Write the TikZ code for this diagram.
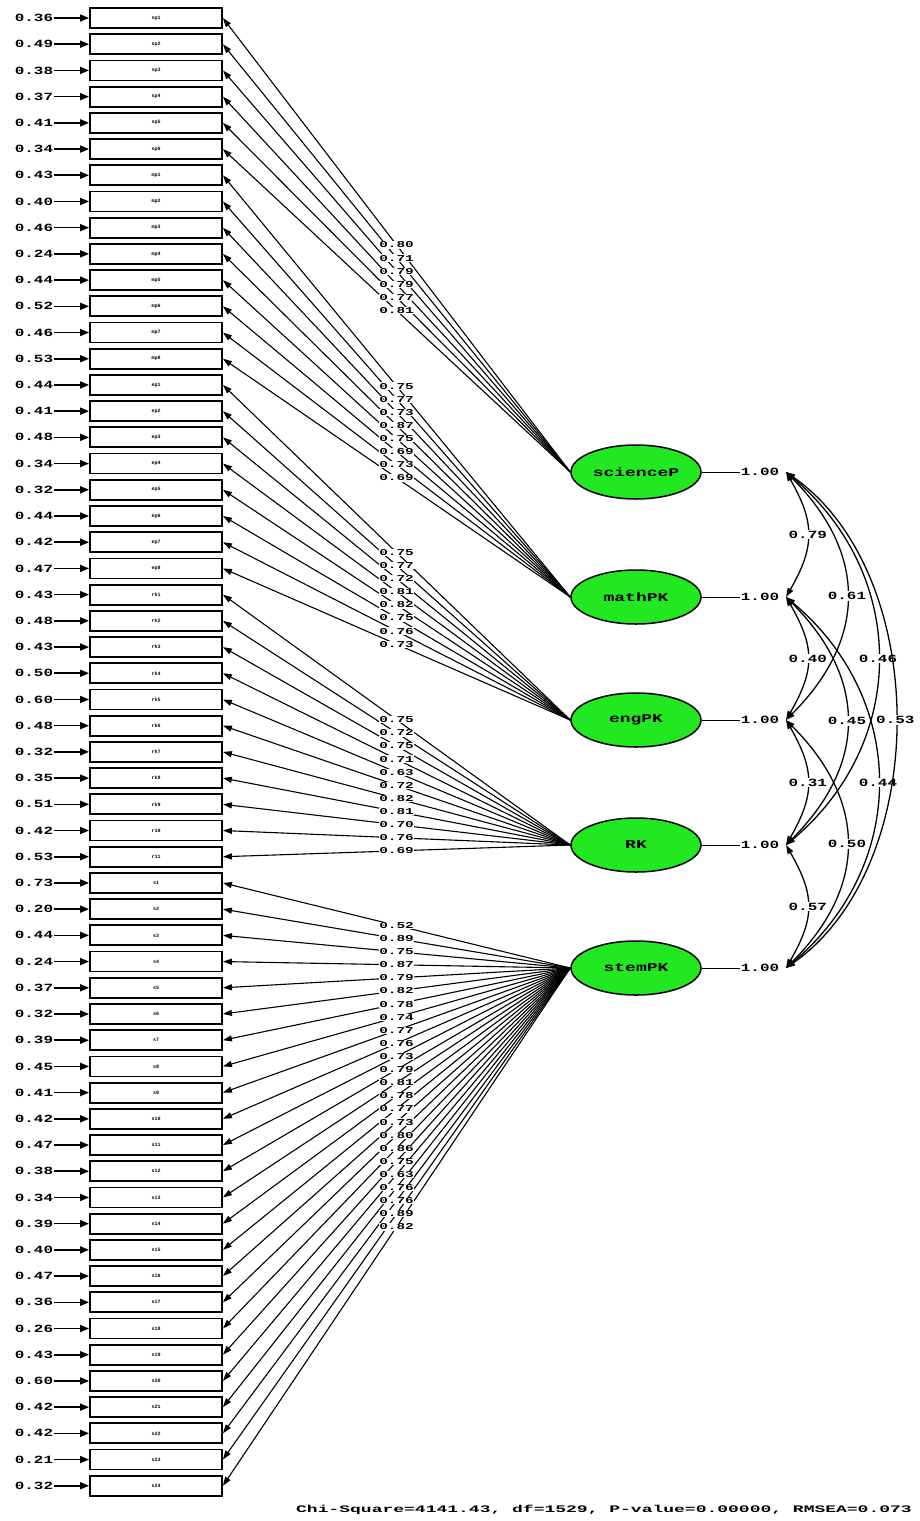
\documentclass[tikz,border=0pt]{standalone}
\usepackage{fontspec}
\setmonofont{Liberation Mono}
\usetikzlibrary{arrows.meta,shapes.geometric}
\definecolor{fgreen}{RGB}{34,232,34}
\newcommand{\bigw}[1]{\scalebox{1.45}[1]{\fontsize{11}{11}\selectfont\ttfamily\bfseries #1}}
\newcommand{\smallw}[1]{\scalebox{1.6}[1]{\fontsize{9}{9}\selectfont\ttfamily\bfseries #1}}
\newcommand{\latw}[1]{\scalebox{1.5}[1]{\fontsize{12}{12}\selectfont\ttfamily\bfseries #1}}
\newcommand{\itemw}[1]{{\fontsize{5}{5}\selectfont\ttfamily\bfseries #1}}
\begin{document}
\begin{tikzpicture}[x=1pt,y=-1pt,
  obs/.style={draw, line width=1.8pt, minimum width=132pt, minimum height=20pt, inner sep=0pt, fill=white},
  lat/.style={ellipse, draw, line width=1.5pt, fill=fgreen, minimum width=130pt, minimum height=54pt, inner sep=0pt},
  txt/.style={inner sep=0.6pt},
  loadlab/.style={inner sep=0.6pt, fill=white},
  errarrow/.style={-{Triangle[length=9pt,width=7pt]}, line width=1.6pt},
  loadarrow/.style={-{Triangle[length=9pt,width=6pt]}, line width=1.1pt},
  corr/.style={{Triangle[length=9pt,width=6pt]}-{Triangle[length=9pt,width=6pt]}, line width=1.3pt},
  corrlab/.style={inner sep=0.8pt, fill=white}
]
\useasboundingbox (0,0) rectangle (919,1521);
\fill[white] (0,0) rectangle (919,1521);

% latent variables
\node[lat] (sci)  at (636,472) {\latw{scienceP}};
\node[lat] (math) at (636,597) {\latw{mathPK}};
\node[lat] (eng)  at (636,720) {\latw{engPK}};
\node[lat] (rk)   at (636,845) {\latw{RK}};
\node[lat] (stem) at (636,968) {\latw{stemPK}};

% observed variables with error variances
\foreach \i/\e/\n in {1/0.36/sp1,2/0.49/sp2,3/0.38/sp3,4/0.37/sp4,5/0.41/sp5,6/0.34/sp6,
  7/0.43/mp1,8/0.40/mp2,9/0.46/mp3,10/0.24/mp4,11/0.44/mp5,12/0.52/mp6,13/0.46/mp7,14/0.53/mp8,
  15/0.44/ep1,16/0.41/ep2,17/0.48/ep3,18/0.34/ep4,19/0.32/ep5,20/0.44/ep6,21/0.42/ep7,22/0.47/ep8,
  23/0.43/rk1,24/0.48/rk2,25/0.43/rk3,26/0.50/rk4,27/0.60/rk5,28/0.48/rk6,29/0.32/rk7,30/0.35/rk8,31/0.51/rk9,32/0.42/r10,33/0.53/r11,
  34/0.73/s1,35/0.20/s2,36/0.44/s3,37/0.24/s4,38/0.37/s5,39/0.32/s6,40/0.39/s7,41/0.45/s8,42/0.41/s9,43/0.42/s10,44/0.47/s11,45/0.38/s12,
  46/0.34/s13,47/0.39/s14,48/0.40/s15,49/0.47/s16,50/0.36/s17,51/0.26/s18,52/0.43/s19,53/0.60/s20,54/0.42/s21,55/0.42/s22,56/0.21/s23,57/0.32/s24} {
  \pgfmathsetmacro\yy{18+(\i-1)*26.21}
  \node[obs] (x\i) at (156,\yy) {\itemw{\n}};
  \node[txt] (e\i) at (34,\yy) {\bigw{\e}};
  \draw[errarrow] (e\i.east) -- (x\i.west);
}

% loadings: lines
\foreach \i/\l/\f in {1/0.80/sci,2/0.71/sci,3/0.79/sci,4/0.79/sci,5/0.77/sci,6/0.81/sci,
  7/0.75/math,8/0.77/math,9/0.73/math,10/0.87/math,11/0.75/math,12/0.69/math,13/0.73/math,14/0.69/math,
  15/0.75/eng,16/0.77/eng,17/0.72/eng,18/0.81/eng,19/0.82/eng,20/0.75/eng,21/0.76/eng,22/0.73/eng,
  23/0.75/rk,24/0.72/rk,25/0.75/rk,26/0.71/rk,27/0.63/rk,28/0.72/rk,29/0.82/rk,30/0.81/rk,31/0.70/rk,32/0.76/rk,33/0.69/rk,
  34/0.52/stem,35/0.89/stem,36/0.75/stem,37/0.87/stem,38/0.79/stem,39/0.82/stem,40/0.78/stem,41/0.74/stem,42/0.77/stem,43/0.76/stem,
  44/0.73/stem,45/0.79/stem,46/0.81/stem,47/0.78/stem,48/0.77/stem,49/0.73/stem,50/0.80/stem,51/0.86/stem,52/0.75/stem,53/0.63/stem,
  54/0.76/stem,55/0.76/stem,56/0.89/stem,57/0.82/stem} {
  \draw[loadarrow] (\f.west) -- (x\i.east);
}
% loadings: labels
\foreach \i/\l/\f in {1/0.80/sci,2/0.71/sci,3/0.79/sci,4/0.79/sci,5/0.77/sci,6/0.81/sci,
  7/0.75/math,8/0.77/math,9/0.73/math,10/0.87/math,11/0.75/math,12/0.69/math,13/0.73/math,14/0.69/math,
  15/0.75/eng,16/0.77/eng,17/0.72/eng,18/0.81/eng,19/0.82/eng,20/0.75/eng,21/0.76/eng,22/0.73/eng,
  23/0.75/rk,24/0.72/rk,25/0.75/rk,26/0.71/rk,27/0.63/rk,28/0.72/rk,29/0.82/rk,30/0.81/rk,31/0.70/rk,32/0.76/rk,33/0.69/rk,
  34/0.52/stem,35/0.89/stem,36/0.75/stem,37/0.87/stem,38/0.79/stem,39/0.82/stem,40/0.78/stem,41/0.74/stem,42/0.77/stem,43/0.76/stem,
  44/0.73/stem,45/0.79/stem,46/0.81/stem,47/0.78/stem,48/0.77/stem,49/0.73/stem,50/0.80/stem,51/0.86/stem,52/0.75/stem,53/0.63/stem,
  54/0.76/stem,55/0.76/stem,56/0.89/stem,57/0.82/stem} {
  \path (\f.west) -- node[loadlab, pos=0.5] {\smallw{\l}} (x\i.east);
}

% variances of latent variables
\foreach \f/\k/\yy in {sci/1/472,math/2/597,eng/3/720,rk/4/845,stem/5/968} {
  \node[txt] (v\k) at (760,\yy) {\bigw{1.00}};
  \coordinate (r\k) at (786,\yy);
  \draw[line width=0.8pt] (\f.east) -- (v\k.west);
}

% correlations
\draw[corr] (r1) .. controls +(60:58) and +(-60:58) .. node[corrlab,pos=0.5] {\bigw{0.79}} (r2);
\draw[corr] (r2) .. controls +(60:58) and +(-60:58) .. node[corrlab,pos=0.5] {\bigw{0.40}} (r3);
\draw[corr] (r3) .. controls +(60:58) and +(-60:58) .. node[corrlab,pos=0.5] {\bigw{0.31}} (r4);
\draw[corr] (r4) .. controls +(60:58) and +(-60:58) .. node[corrlab,pos=0.5] {\bigw{0.57}} (r5);
\draw[corr] (r1) .. controls +(45:115) and +(-45:115) .. node[corrlab,pos=0.5] {\bigw{0.61}} (r3);
\draw[corr] (r2) .. controls +(45:115) and +(-45:115) .. node[corrlab,pos=0.5] {\bigw{0.45}} (r4);
\draw[corr] (r3) .. controls +(45:115) and +(-45:115) .. node[corrlab,pos=0.5] {\bigw{0.50}} (r5);
\draw[corr] (r1) .. controls +(40:160) and +(-40:160) .. node[corrlab,pos=0.5] {\bigw{0.46}} (r4);
\draw[corr] (r2) .. controls +(40:160) and +(-40:160) .. node[corrlab,pos=0.5] {\bigw{0.44}} (r5);
\draw[corr] (r1) .. controls +(35:178) and +(-35:178) .. node[corrlab,pos=0.5] {\bigw{0.53}} (r5);

% fit statistics
\node[txt] (fit) at (604,1510) {\scalebox{1.8}[1]{\fontsize{10}{10}\selectfont\ttfamily\bfseries Chi-Square=4141.43, df=1529, P-value=0.00000, RMSEA=0.073}};
\end{tikzpicture}
\end{document}
